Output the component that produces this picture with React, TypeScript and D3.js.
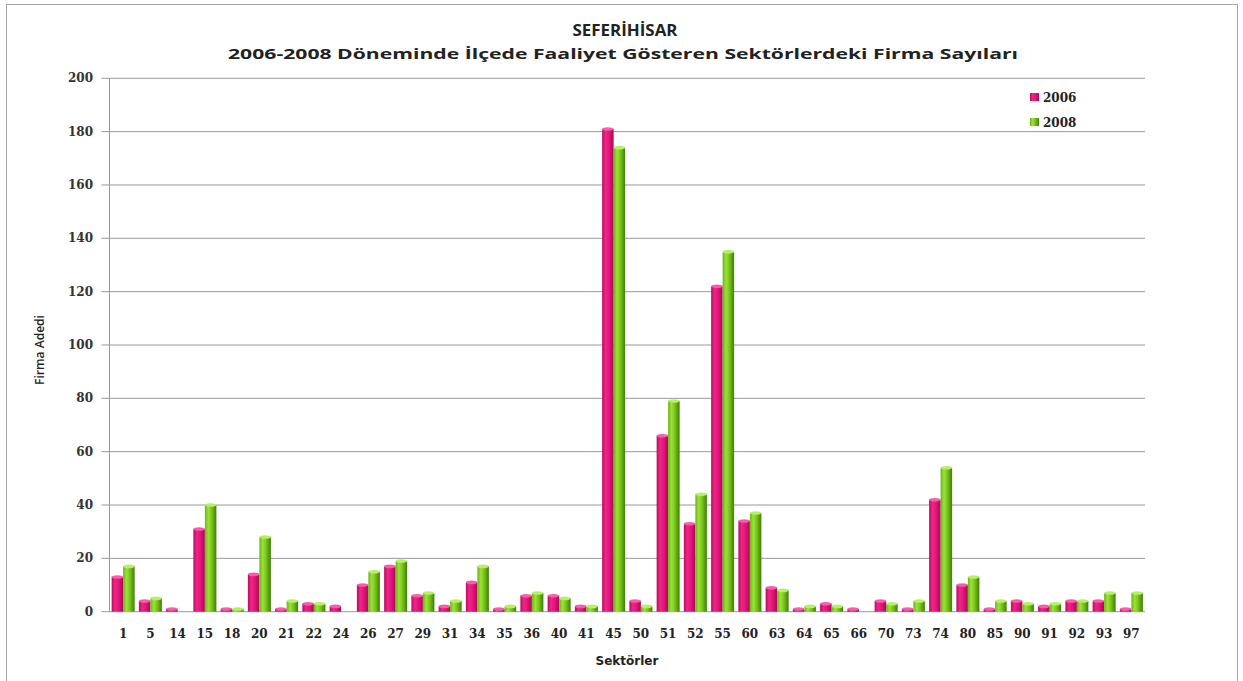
import React from "react";
import * as d3 from "d3";

const sectors = ["1", "5", "14", "15", "18", "20", "21", "22", "24", "26", "27", "29", "31", "34", "35", "36", "40", "41", "45", "50", "51", "52", "55", "60", "63", "64", "65", "66", "70", "73", "74", "80", "85", "90", "91", "92", "93", "97"];
const firms2006 = [13, 4, 1, 31, 1, 14, 1, 3, 2, 10, 17, 6, 2, 11, 1, 6, 6, 2, 181, 4, 66, 33, 122, 34, 9, 1, 3, 1, 4, 1, 42, 10, 1, 4, 2, 4, 4, 1];
const firms2008 = [17, 5, 0, 40, 1, 28, 4, 3, 0, 15, 19, 7, 4, 17, 2, 7, 5, 2, 174, 2, 79, 44, 135, 37, 8, 2, 2, 0, 3, 4, 54, 13, 4, 3, 3, 4, 7, 7];
const years = ["2006", "2008"];
const yTicks = [0, 20, 40, 60, 80, 100, 120, 140, 160, 180, 200];

const W = 1243;
const H = 681;
const left = 109.5;
const right = 1145;
const top = 78.3;
const bottom = 611.7;

const App = () => {
  const x0 = d3.scaleBand<string>().domain(sectors).range([left, right]).padding(0);
  const bw = x0.bandwidth();
  const x1 = d3.scaleBand<string>().domain(years).range([bw / 2 - 11.5, bw / 2 + 11.5]).padding(0);
  const y = d3.scaleLinear().domain([0, 200]).range([bottom, top]);
  const series = [firms2006, firms2008];

  return (
    <svg width={W} height={H} style={{ position: "absolute", left: 0, top: 0, background: "#fff" }}>
      <defs>
        <linearGradient id="g2006" x1="0" x2="1" y1="0" y2="0">
          <stop offset="0" stopColor="#b80d5e" />
          <stop offset="0.3" stopColor="#f02588" />
          <stop offset="0.6" stopColor="#e3167b" />
          <stop offset="1" stopColor="#a80a54" />
        </linearGradient>
        <linearGradient id="g2008" x1="0" x2="1" y1="0" y2="0">
          <stop offset="0" stopColor="#6cb414" />
          <stop offset="0.3" stopColor="#9be23a" />
          <stop offset="0.6" stopColor="#78c21a" />
          <stop offset="1" stopColor="#3f7e08" />
        </linearGradient>
      </defs>
      <rect x={6.5} y={4.5} width={1231} height={700} fill="none" stroke="#a6a6a6" />

      <text x={625} y={36} textAnchor="middle" fontFamily="'Open Sans', sans-serif" fontWeight="bold" fontSize={16} fill="#222" textLength={105} lengthAdjust="spacingAndGlyphs">
        SEFERİHİSAR
      </text>
      <text x={623} y={59} textAnchor="middle" fontFamily="'Open Sans', sans-serif" fontWeight="bold" fontSize={15} fill="#222" textLength={790} lengthAdjust="spacingAndGlyphs">
        2006-2008 Döneminde İlçede Faaliyet Gösteren Sektörlerdeki Firma Sayıları
      </text>

      {yTicks.map((t) => (
        <g key={t}>
          <line x1={left - 8} x2={right} y1={y(t)} y2={y(t)} stroke="#9a9a9a" strokeWidth={1} />
          <text x={93} y={y(t) + 4} textAnchor="end" fontFamily="'DejaVu Serif', serif" fontWeight="bold" fontSize={12} fill="#333">
            {t}
          </text>
        </g>
      ))}
      <line x1={left} x2={left} y1={top} y2={bottom} stroke="#9a9a9a" />

      {sectors.map((s, i) => (
        <g key={s} transform={`translate(${x0(s)},0)`}>
          {series.map((vals, k) => {
            const bx = x1(years[k])!;
            const w = x1.bandwidth();
            const v = vals[i];
            if (v <= 0) return null;
            const yt = y(v);
            return (
              <g key={k}>
                <rect x={bx} y={yt} width={w} height={bottom - yt} fill={`url(#g${years[k]})`} />
                <ellipse cx={bx + w / 2} cy={yt} rx={w / 2} ry={1.8} fill={k === 0 ? "#f65ea8" : "#b6ef6a"} />
              </g>
            );
          })}
          <text x={bw / 2} y={638} textAnchor="middle" fontFamily="'DejaVu Serif', serif" fontWeight="bold" fontSize={12} fill="#222">
            {s}
          </text>
        </g>
      ))}

      <text x={627} y={665} textAnchor="middle" fontFamily="'DejaVu Sans', sans-serif" fontWeight="bold" fontSize={12} fill="#222">
        Sektörler
      </text>
      <text transform="translate(44,350) rotate(-90)" textAnchor="middle" fontFamily="'Open Sans', sans-serif" fontWeight="600" fontSize={12} fill="#222" textLength={70} lengthAdjust="spacingAndGlyphs">
        Firma Adedi
      </text>

      {years.map((yr, k) => (
        <g key={yr} transform={`translate(1030,${97 + k * 25})`}>
          <rect x={0} y={-4} width={9} height={8} fill={`url(#g${yr})`} />
          <text x={13} y={4.5} fontFamily="'DejaVu Serif', serif" fontWeight="bold" fontSize={12} fill="#222">
            {yr}
          </text>
        </g>
      ))}
    </svg>
  );
};

export default App;
